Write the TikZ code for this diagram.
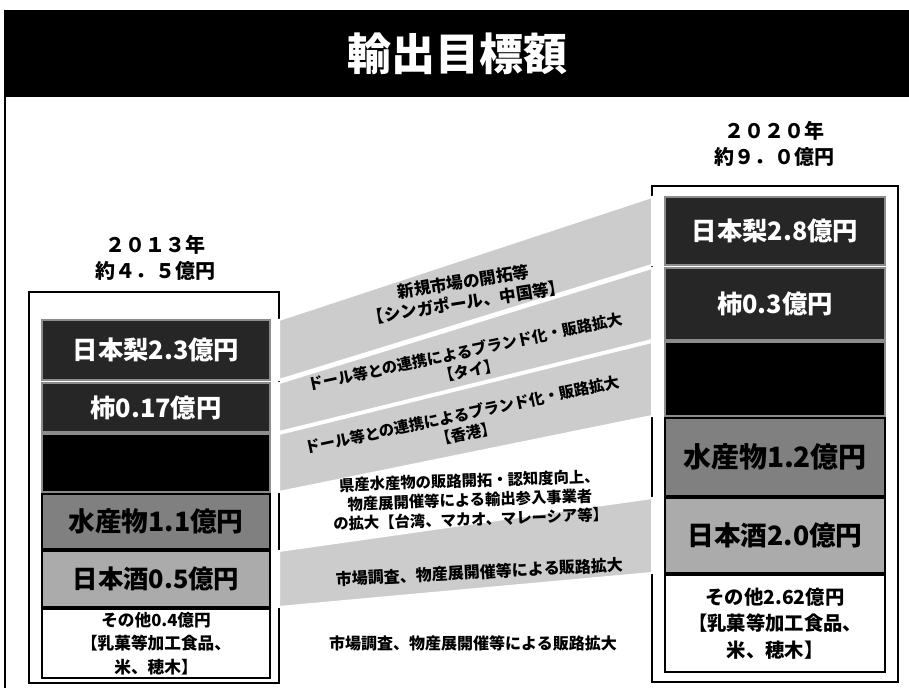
\documentclass[tikz,border=0pt]{standalone}
\usepackage{fontspec}
\setmainfont{Noto Sans CJK JP}
\newfontfamily\widejp{Noto Sans CJK JP}[CharacterWidth = Full]

\begin{document}
\begin{tikzpicture}[x = 0.75pt, y = 0.75pt, font = \bfseries,
	every node/.style = {rectangle, inner sep = 0pt, outer sep = 0pt, align = center},
	outerbox/.style = {draw = black, line width = 1pt, fill = white},
	darkband/.style = {draw = black!45, line width = 0.8pt, fill = black!85, text = white},
	blackband/.style = {draw = black!45, line width = 0.8pt, fill = black},
	fishband/.style = {draw = black, line width = 0.8pt, fill = black!50},
	sakeband/.style = {draw = black, line width = 0.8pt, fill = black!33},
	otherband/.style = {draw = black, line width = 0.8pt, fill = white},
	flow/.style = {fill = black!20, draw = white, line width = 1.5pt},
	note/.style = {font = \bfseries\fontsize{11.5}{14.5}\selectfont}]

	\useasboundingbox (0, 0) rectangle (909, -688);

	\node (title) [fill = black, text = white, minimum width = 678pt, minimum height = 65pt, font = \bfseries\fontsize{33}{36}\selectfont] at (457, -53.5) {輸出目標額};
	\draw [line width = 1.5pt] (title.north west) -- (5, -688);

	\node (yearL) [font = \widejp\bfseries\fontsize{15}{20}\selectfont] at (155, -258) {2013年\\約4.5億円};
	\node (yearR) [font = \widejp\bfseries\fontsize{15}{20}\selectfont] at (774, -144) {2020年\\約9.0億円};

	\node (outerL) [outerbox, minimum width = 187.5pt, minimum height = 293.25pt] at (154, -487.5) {};
	\node (outerR) [outerbox, minimum width = 184.5pt, minimum height = 372pt] at (775, -434) {};

	\node (pearL) [darkband, minimum width = 171pt, minimum height = 45pt, font = \bfseries\fontsize{19}{22}\selectfont] at (156, -350) {日本梨2.3億円};
	\node (kakiL) [darkband, minimum width = 171pt, minimum height = 36.75pt, font = \bfseries\fontsize{19}{22}\selectfont] at (156, -407.5) {柿0.17億円};
	\node (darkL) [blackband, minimum width = 171pt, minimum height = 43.5pt] at (156, -463) {};
	\node (fishL) [fishband, minimum width = 171pt, minimum height = 41.25pt, font = \bfseries\fontsize{20}{22}\selectfont] at (156, -521.5) {水産物1.1億円};
	\node (sakeL) [sakeband, minimum width = 171pt, minimum height = 42pt, font = \bfseries\fontsize{19}{22}\selectfont] at (156, -579) {日本酒0.5億円};
	\node (otherL) [otherband, minimum width = 171pt, minimum height = 51.75pt, font = \bfseries\fontsize{12.5}{17.5}\selectfont] at (156, -643.5) {その他0.4億円\\【乳菓等加工食品、\\米、穂木】};

	\node (pearR) [darkband, minimum width = 165pt, minimum height = 51pt, font = \bfseries\fontsize{19}{22}\selectfont] at (775, -231) {日本梨2.8億円};
	\node (kakiR) [darkband, minimum width = 165pt, minimum height = 54pt, font = \bfseries\fontsize{19}{22}\selectfont] at (775, -304) {柿0.3億円};
	\node (darkR) [blackband, minimum width = 165pt, minimum height = 55.5pt] at (775, -379) {};
	\node (fishR) [fishband, minimum width = 165pt, minimum height = 58.5pt, font = \bfseries\fontsize{21}{22}\selectfont] at (775, -457) {水産物1.2億円};
	\node (sakeR) [sakeband, minimum width = 165pt, minimum height = 56.25pt, font = \bfseries\fontsize{20}{22}\selectfont] at (775, -535.5) {日本酒2.0億円};
	\node (otherR) [otherband, minimum width = 165pt, minimum height = 72.75pt, font = \bfseries\fontsize{14.5}{20}\selectfont] at (775, -623.5) {その他2.62億円\\【乳菓等加工食品、\\米、穂木】};

	\filldraw [flow] (outerL.east |- pearL.north) -- (outerR.west |- pearR.north) -- (outerR.west |- pearR.south) -- (outerL.east |- pearL.south) -- cycle;
	\filldraw [flow] (outerL.east |- kakiL.north) -- (outerR.west |- kakiR.north) -- (outerR.west |- kakiR.south) -- (outerL.east |- kakiL.south) -- cycle;
	\filldraw [flow] (outerL.east |- darkL.north) -- (outerR.west |- darkR.north) -- (outerR.west |- darkR.south) -- (outerL.east |- darkL.south) -- cycle;
	\filldraw [flow] (outerL.east |- sakeL.north) -- (outerR.west |- sakeR.north) -- (outerR.west |- sakeR.south) -- (outerL.east |- sakeL.south) -- cycle;

	\node (pearNote) [note, rotate = 9, font = \bfseries\fontsize{12.5}{15.5}\selectfont] at (465, -292) {新規市場の開拓等\\【シンガポール、中国等】};
	\node (kakiNote) [note, rotate = 12] at (467, -361) {ドール等との連携によるブランド化・販路拡大\\【タイ】};
	\node (darkNote) [note, rotate = 12] at (464, -424) {ドール等との連携によるブランド化・販路拡大\\【香港】};
	\node (fishNote) [note, rotate = 2] at (470, -500) {県産水産物の販路開拓・認知度向上、\\物産展開催等による輸出参入事業者\\の拡大【台湾、マカオ、マレーシア等】};
	\node (sakeNote) [note, rotate = 3, font = \bfseries\fontsize{12}{14}\selectfont] at (480, -572) {市場調査、物産展開催等による販路拡大};
	\node (otherNote) [note, font = \bfseries\fontsize{12}{14}\selectfont] at (473, -643) {市場調査、物産展開催等による販路拡大};

\end{tikzpicture}
\end{document}
